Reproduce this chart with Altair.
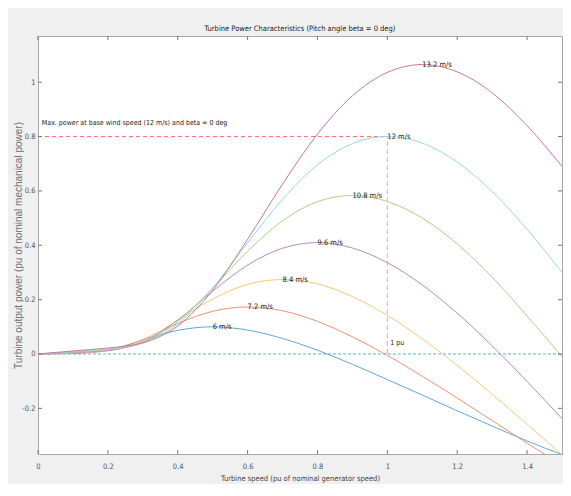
import altair as alt
import pandas as pd

# ---------------- data ----------------
turbine_speed = [0.0, 0.1, 0.2, 0.3, 0.4, 0.5, 0.6, 0.7, 0.8, 0.9, 1.0, 1.1, 1.2, 1.3, 1.4, 1.5]

wind_labels = ["6 m/s", "7.2 m/s", "8.4 m/s", "9.6 m/s", "10.8 m/s", "12 m/s", "13.2 m/s"]

p_6 = [0.0, 0.002, 0.014, 0.051, 0.087, 0.100, 0.088, 0.057, 0.014, -0.038, -0.094, -0.151, -0.209, -0.265, -0.320, -0.370]
p_72 = [0.0, 0.003, 0.012, 0.053, 0.112, 0.157, 0.173, 0.159, 0.120, 0.063, -0.005, -0.082, -0.162, -0.245, -0.328, -0.409]
p_84 = [0.0, 0.005, 0.012, 0.049, 0.124, 0.202, 0.256, 0.274, 0.258, 0.211, 0.142, 0.056, -0.042, -0.148, -0.258, -0.370]
p_96 = [0.0, 0.006, 0.013, 0.044, 0.125, 0.231, 0.327, 0.389, 0.410, 0.390, 0.336, 0.254, 0.150, 0.030, -0.101, -0.238]
p_108 = [0.0, 0.007, 0.016, 0.041, 0.119, 0.243, 0.378, 0.490, 0.560, 0.583, 0.561, 0.500, 0.405, 0.283, 0.140, -0.010]
p_12 = [0.0, 0.009, 0.019, 0.040, 0.111, 0.243, 0.409, 0.569, 0.696, 0.774, 0.800, 0.776, 0.706, 0.598, 0.459, 0.300]
p_132 = [0.0, 0.011, 0.022, 0.041, 0.103, 0.235, 0.422, 0.625, 0.809, 0.950, 1.036, 1.065, 1.038, 0.961, 0.840, 0.690]

series = [p_6, p_72, p_84, p_96, p_108, p_12, p_132]

# label anchor points (curve maxima)
peak_x = [0.5, 0.6, 0.7, 0.8, 0.9, 1.0, 1.1]
peak_y = [0.100, 0.173, 0.274, 0.410, 0.583, 0.800, 1.065]

line_colors = ["#62a6dc", "#ec9276", "#f3c978", "#b48ac6", "#add183", "#93d7f5", "#cb7888"]

x_ticks = [0.0, 0.2, 0.4, 0.6, 0.8, 1.0, 1.2, 1.4]
y_ticks = [-0.2, 0.0, 0.2, 0.4, 0.6, 0.8, 1.0]

x_domain = [0.0, 1.5]
y_domain = [-0.368, 1.17]

base_power = 0.8
base_speed = 1.0

note_text = "Max. power at base wind speed (12 m/s) and beta = 0 deg"
note_pos = [0.011, 0.85]
pu_text = "1 pu"
pu_pos = [1.008, 0.04]

# ---------------- tables ----------------
rows = []
for lab, vals in zip(wind_labels, series):
    for xv, yv in zip(turbine_speed, vals):
        rows.append({"x": xv, "y": yv, "wind": lab})
curves_df = pd.DataFrame(rows)

labels_df = pd.DataFrame({"x": peak_x, "y": peak_y, "wind": wind_labels})

notes_df = pd.DataFrame({
    "x": [note_pos[0], pu_pos[0]],
    "y": [note_pos[1], pu_pos[1]],
    "t": [note_text, pu_text],
})

hred_df = pd.DataFrame({"x": [0.0], "x2": [base_speed], "y": [base_power]})
vred_df = pd.DataFrame({"x": [base_speed], "y": [0.0], "y2": [base_power]})
zero_df = pd.DataFrame({"x": [x_domain[0]], "x2": [x_domain[1]], "y": [0.0]})

xt_df = pd.DataFrame({"x": x_ticks})
yt_df = pd.DataFrame({"y": y_ticks})

# ---------------- styling ----------------
NARROW = "Liberation Sans Narrow, Arial Narrow, DejaVu Sans Condensed, sans-serif"
PLOT_W, PLOT_H = 524, 418

num_expr = "datum.value < 0 ? '-' + format(-datum.value, '~g') : format(datum.value, '~g')"

x_axis = alt.Axis(
    values=x_ticks, labelExpr=num_expr, ticks=False, domain=False, grid=False,
    labelFlush=False, labelOverlap=False, labelPadding=8,
    labelFont=NARROW, labelFontSize=7.5, labelColor="#555555",
    title="Turbine speed (pu of nominal generator speed)",
    titleFont=NARROW, titleFontSize=7.5, titleFontWeight="normal",
    titleColor="#444444", titlePadding=5,
)
y_axis = alt.Axis(
    values=y_ticks, labelExpr=num_expr, ticks=False, domain=False, grid=False,
    labelFlush=False, labelOverlap=False, labelPadding=3,
    labelFont=NARROW, labelFontSize=7.5, labelColor="#555555",
    title="Turbine output power (pu of nominal mechanical power)",
    titleFont="Liberation Sans, Arial, sans-serif", titleFontSize=10,
    titleFontWeight="normal", titleColor="#6e6e6e",
    titleX=-20, titleBaseline="middle",
)

xs = alt.Scale(domain=x_domain, nice=False, zero=False)
ys = alt.Scale(domain=y_domain, nice=False, zero=False)

X = alt.X("x:Q", scale=xs, axis=x_axis)
Y = alt.Y("y:Q", scale=ys, axis=y_axis)

curves = alt.Chart(curves_df).mark_line(strokeWidth=1, clip=True, interpolate="monotone").encode(
    x=X, y=Y,
    color=alt.Color("wind:N", scale=alt.Scale(domain=wind_labels, range=line_colors), legend=None),
    detail="wind:N",
)

zero_line = alt.Chart(zero_df).mark_rule(color="#5aaee8", strokeWidth=1, strokeDash=[3, 2]).encode(
    x=X, x2="x2:Q", y=Y
)
hred = alt.Chart(hred_df).mark_rule(color="#ff6e6e", strokeWidth=1, strokeDash=[4, 3]).encode(
    x=X, x2="x2:Q", y=Y
)
vred = alt.Chart(vred_df).mark_rule(color="#ffa0a0", strokeWidth=1, strokeDash=[5, 3]).encode(
    x=X, y=Y, y2="y2:Q"
)

curve_labels = alt.Chart(labels_df).mark_text(
    align="left", baseline="middle", font=NARROW, fontSize=7.5, color="#222222"
).encode(x=X, y=Y, text="wind:N")

notes = alt.Chart(notes_df).mark_text(
    align="left", baseline="middle", font=NARROW, fontSize=7, color="#222222"
).encode(x=X, y=Y, text="t:N")

TICK_COL = "#777777"
TL = 4
left_ticks = alt.Chart(yt_df).mark_rule(color=TICK_COL, strokeWidth=1).encode(
    y=Y, x=alt.value(0), x2=alt.value(TL))
right_ticks = alt.Chart(yt_df).mark_rule(color=TICK_COL, strokeWidth=1).encode(
    y=Y, x=alt.value(PLOT_W - TL), x2=alt.value(PLOT_W))
bottom_ticks = alt.Chart(xt_df).mark_rule(color=TICK_COL, strokeWidth=1).encode(
    x=X, y=alt.value(PLOT_H), y2=alt.value(PLOT_H - TL))
top_ticks = alt.Chart(xt_df).mark_rule(color=TICK_COL, strokeWidth=1).encode(
    x=X, y=alt.value(0), y2=alt.value(TL))

chart = alt.layer(
    zero_line, hred, vred, curves, curve_labels, notes,
    left_ticks, right_ticks, bottom_ticks, top_ticks,
).properties(
    width=PLOT_W, height=PLOT_H,
    autosize=alt.AutoSizeParams(type="none"),
    padding={"left": 30, "top": 28, "right": 1, "bottom": 30},
    title=alt.TitleParams(
        "Turbine Power Characteristics (Pitch angle beta = 0 deg)",
        font=NARROW, fontSize=7.5, fontWeight="normal", color="#222222",
        anchor="middle", offset=3,
    ),
).configure(
    background="#f0f0f0",
).configure_view(
    stroke="#a8a8a8", strokeWidth=1, fill="white",
)

chart.save("out.html", embed_options={"renderer": "svg", "actions": False})
